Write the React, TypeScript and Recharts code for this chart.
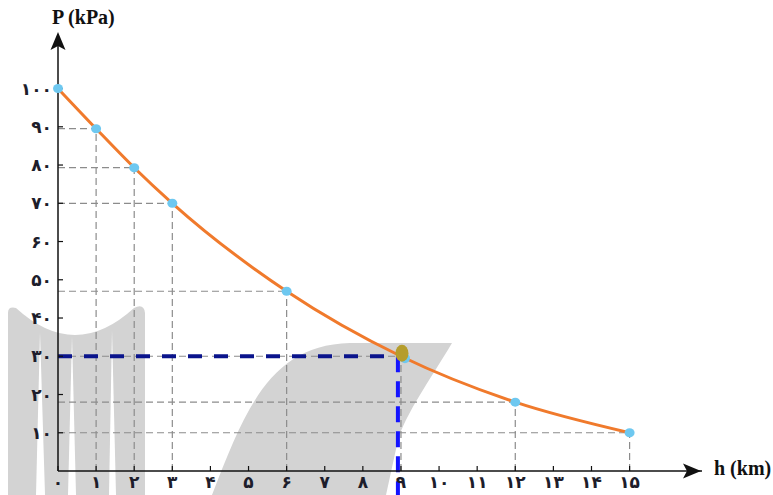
import React from "react";
import {
  LineChart,
  Line,
  XAxis,
  YAxis,
  ReferenceLine,
} from "recharts";

// altitude (km) and pressure (kPa)
const heights = [0, 1, 2, 3, 6, 9, 12, 15];
const pressures = [100, 89.5, 79.3, 70, 47, 30, 18, 10];
const xTicks = [0, 1, 2, 3, 4, 5, 6, 7, 8, 9, 10, 11, 12, 13, 14, 15];
const yTicks = [10, 20, 30, 40, 50, 60, 70, 80, 90, 100];
const readHeight = 9;
const readPressure = 30;

const data = heights.map((h, i) => ({ h, p: pressures[i] }));

const faDigits = "۰۱۲۳۴۵۶۷۸۹";
const toFa = (n: number) =>
  String(n).replace(/\d/g, (d) => faDigits[Number(d)]);

const tickStyle = {
  fontFamily: "DejaVu Sans",
  fontSize: 17,
  fontWeight: 700,
  fill: "#1d1d2b",
  letterSpacing: 2,
};

const renderDot = (props: any) => {
  const { cx, cy, index } = props;
  if (data[index].h === readHeight) {
    return (
      <g key={"dot" + index}>
        <circle cx={cx + 4} cy={cy + 2} r={5} fill="#6ec8f0" />
        <ellipse cx={cx + 1} cy={cy - 3} rx={6.5} ry={8.5} fill="#b59d2c" />
      </g>
    );
  }
  return <ellipse key={"dot" + index} cx={cx} cy={cy} rx={5} ry={4.5} fill="#6ec8f0" />;
};

export default function App() {
  const guides = data.filter((d) => d.h > 0);
  return (
    <div style={{ position: "absolute", left: 0, top: 0, width: 773, height: 495 }}>
      {/* mountain silhouettes behind the chart */}
      <svg width={773} height={495} style={{ position: "absolute", left: 0, top: 0 }}>
        <path
          d="M8,495 L8,313 Q8,306 16,308 Q75,362 134,308 Q144,303 145,313 L145,495 Z"
          fill="#d3d3d3"
        />
        <path d="M40,332 L36,495 L45,495 Z" fill="#fff" />
        <path d="M72,336 L68,495 L76,495 Z" fill="#fff" />
        <path d="M112,330 L109,495 L116,495 Z" fill="#fff" />
        <path
          d="M212,495 C245,410 270,345 350,343 L452,343 C430,380 405,415 398,440 L386,495 Z"
          fill="#d3d3d3"
        />
      </svg>

      <div style={{ position: "absolute", left: 0, top: 0 }}>
        <LineChart
          width={773}
          height={495}
          data={data}
          margin={{ top: 35, right: 71, bottom: 0, left: 0 }}
        >
          <XAxis
            dataKey="h"
            type="number"
            domain={[0, 16.9]}
            ticks={xTicks}
            tickFormatter={toFa}
            height={24}
            tickSize={-5}
            tickMargin={10}
            axisLine={{ stroke: "#111", strokeWidth: 1.5 }}
            tickLine={{ stroke: "#111", strokeWidth: 1.2 }}
            tick={tickStyle}
            interval={0}
          />
          <YAxis
            type="number"
            domain={[0, 114]}
            ticks={yTicks}
            tickFormatter={toFa}
            width={58}
            tickSize={-5}
            tickMargin={11}
            axisLine={{ stroke: "#111", strokeWidth: 1.5 }}
            tickLine={{ stroke: "#111", strokeWidth: 1.2 }}
            tick={tickStyle}
            interval={0}
          />

          {guides.map((d) => (
            <ReferenceLine
              key={"v" + d.h}
              segment={[{ x: d.h, y: 0 }, { x: d.h, y: d.p }]}
              stroke="#8c8c8c"
              strokeDasharray="7 4"
              strokeWidth={1.2}
              ifOverflow="visible"
            />
          ))}
          {guides.map((d) => (
            <ReferenceLine
              key={"hz" + d.h}
              segment={[{ x: 0, y: d.p }, { x: d.h, y: d.p }]}
              stroke="#8c8c8c"
              strokeDasharray="7 4"
              strokeWidth={1.2}
              ifOverflow="visible"
            />
          ))}

          <ReferenceLine
            segment={[{ x: 0, y: readPressure }, { x: readHeight - 0.1, y: readPressure }]}
            stroke="#0a148c"
            strokeDasharray="14 12"
            strokeWidth={4}
            ifOverflow="visible"
          />
          <ReferenceLine
            segment={[{ x: readHeight - 0.08, y: readPressure }, { x: readHeight - 0.08, y: -6.3 }]}
            stroke="#1414ff"
            strokeDasharray="16 9"
            strokeWidth={4}
            ifOverflow="visible"
          />

          <Line
            dataKey="p"
            type="monotone"
            stroke="#f07a2c"
            strokeWidth={3}
            dot={renderDot}
            activeDot={false}
            isAnimationActive={false}
          />
        </LineChart>
      </div>

      {/* axis arrows and titles */}
      <svg
        width={773}
        height={495}
        style={{ position: "absolute", left: 0, top: 0, pointerEvents: "none" }}
      >
        <path d="M58,32 L65.5,50 L58,46 L50.5,50 Z" fill="#111" />
        <path d="M701,471 L683,463.5 L687,471 L683,478.5 Z" fill="#111" />
        <text
          x={52}
          y={24}
          fontFamily="Liberation Serif"
          fontWeight={700}
          fontSize={20}
          fill="#111"
        >
          P (kPa)
        </text>
        <text
          x={714}
          y={475}
          fontFamily="Liberation Serif"
          fontWeight={700}
          fontSize={20}
          fill="#111"
        >
          h (km)
        </text>
      </svg>
    </div>
  );
}
